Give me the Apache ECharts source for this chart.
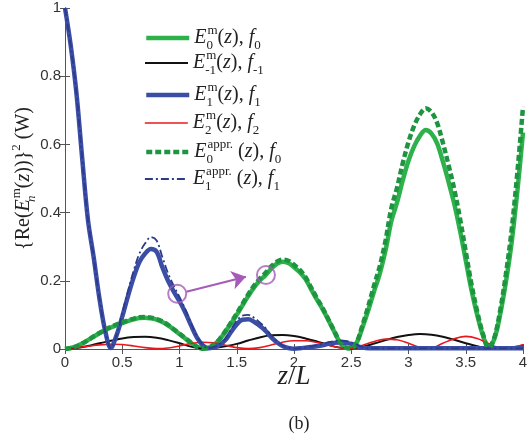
<!DOCTYPE html>
<html>
<head>
<meta charset="utf-8">
<script src="https://cdn.jsdelivr.net/npm/echarts@6/dist/echarts.min.js"></script>
<style>
  html, body { margin: 0; padding: 0; background: #fff; }
  #chart { width: 531px; height: 436px; }
</style>
</head>
<body>
<div id="chart"></div>
<script>
// Sample positions along z/L
const zFine = [];   // step 0.05
for (let i = 0; i <= 80; i++) zFine.push(+(i * 0.05).toFixed(2));
const zCoarse = []; // step 0.1
for (let i = 0; i <= 40; i++) zCoarse.push(+(i * 0.1).toFixed(1));

// Power of the fundamental (green, measured)
const e0m = [0, 0.003, 0.008, 0.016, 0.026, 0.036, 0.046, 0.055, 0.063, 0.07,
  0.076, 0.082, 0.087, 0.091, 0.092, 0.09, 0.086, 0.079, 0.069, 0.057,
  0.044, 0.031, 0.018, 0.007, 0.001, 0.003, 0.012, 0.028, 0.05, 0.075,
  0.1, 0.128, 0.155, 0.18, 0.2, 0.216, 0.235, 0.25, 0.256, 0.252,
  0.24, 0.225, 0.205, 0.175, 0.145, 0.117, 0.085, 0.052, 0.02, 0.004,
  0.002, 0.02, 0.065, 0.115, 0.17, 0.222, 0.29, 0.375, 0.43, 0.495,
  0.552, 0.595, 0.625, 0.642, 0.632, 0.603, 0.55, 0.49, 0.425, 0.347,
  0.26, 0.173, 0.1, 0.04, 0.004, 0.03, 0.1, 0.195, 0.31, 0.46, 0.635];

// Fundamental, approximate model (green dotted)
const e0appr = [0, 0.003, 0.008, 0.016, 0.026, 0.037, 0.047, 0.056, 0.065, 0.072,
  0.078, 0.084, 0.089, 0.093, 0.094, 0.092, 0.088, 0.081, 0.071, 0.058,
  0.045, 0.032, 0.019, 0.007, 0.001, 0.003, 0.013, 0.029, 0.052, 0.078,
  0.104, 0.132, 0.16, 0.185, 0.206, 0.223, 0.242, 0.256, 0.262, 0.259,
  0.247, 0.232, 0.211, 0.18, 0.149, 0.12, 0.087, 0.054, 0.021, 0.004,
  0.002, 0.022, 0.072, 0.127, 0.187, 0.244, 0.319, 0.413, 0.473, 0.545,
  0.607, 0.655, 0.688, 0.706, 0.695, 0.663, 0.605, 0.539, 0.468, 0.382,
  0.286, 0.19, 0.11, 0.044, 0.004, 0.034, 0.112, 0.218, 0.347, 0.515, 0.71];

// First upper harmonic (blue, measured)
const e1m = [1.0, 0.89, 0.75, 0.56, 0.38, 0.27, 0.15, 0.055, 0.003, 0.04,
  0.095, 0.155, 0.21, 0.255, 0.28, 0.293, 0.285, 0.24, 0.2, 0.168,
  0.14, 0.108, 0.07, 0.035, 0.012, 0.002, 0.005, 0.012, 0.026, 0.05,
  0.072, 0.086, 0.087, 0.08, 0.068, 0.054, 0.035, 0.02, 0.009, 0.003,
  0.001, 0.002, 0.004, 0.006, 0.008, 0.011, 0.015, 0.018, 0.019, 0.018,
  0.015, 0.009, 0.004, 0.002, 0.002, 0.002, 0.002, 0.002, 0.002, 0.002,
  0.002, 0.002, 0.002, 0.002, 0.002, 0.002, 0.002, 0.002, 0.002, 0.002,
  0.002, 0.002, 0.002, 0.002, 0.002, 0.002, 0.002, 0.002, 0.002, 0.002, 0.002];

// First upper harmonic, approximate model (blue dash-dot)
const e1appr = [1.0, 0.89, 0.75, 0.56, 0.38, 0.27, 0.15, 0.055, 0.003, 0.04,
  0.105, 0.17, 0.23, 0.28, 0.31, 0.328, 0.318, 0.27, 0.222, 0.185,
  0.153, 0.117, 0.076, 0.038, 0.013, 0.002, 0.006, 0.014, 0.03, 0.057,
  0.083, 0.098, 0.1, 0.092, 0.078, 0.062, 0.04, 0.023, 0.01, 0.004,
  0.001, 0.002, 0.005, 0.008, 0.011, 0.015, 0.02, 0.023, 0.025, 0.024,
  0.02, 0.012, 0.005, 0.002, 0.002, 0.002, 0.002, 0.002, 0.002, 0.002,
  0.002, 0.002, 0.002, 0.002, 0.002, 0.002, 0.002, 0.002, 0.002, 0.002,
  0.002, 0.002, 0.002, 0.002, 0.002, 0.002, 0.002, 0.002, 0.002, 0.002, 0.002];

// Lower harmonic f-1 (black)
const em1m = [0, 0.003, 0.009, 0.017, 0.024, 0.031, 0.035, 0.036, 0.033, 0.026,
  0.017, 0.007, 0.001, 0.003, 0.008, 0.015, 0.025, 0.034, 0.04, 0.041,
  0.038, 0.031, 0.022, 0.012, 0.004, 0.001, 0.007, 0.016, 0.026, 0.035,
  0.041, 0.044, 0.042, 0.036, 0.027, 0.017, 0.008, 0.002, 0.002, 0.005, 0.009];

// Second upper harmonic f2 (red)
const e2m = [0.002, 0.004, 0.008, 0.012, 0.014, 0.013, 0.009, 0.004, 0.001, 0.003,
  0.009, 0.016, 0.02, 0.018, 0.011, 0.004, 0.001, 0.004, 0.012, 0.02,
  0.024, 0.024, 0.019, 0.011, 0.004, 0.002, 0.011, 0.022, 0.029, 0.027,
  0.017, 0.005, 0.003, 0.017, 0.03, 0.037, 0.031, 0.016, 0.003, 0.004, 0.013];

// Highlighted points and the arrow joining them
const highlightPts = [[0.98, 0.162], [1.755, 0.217]];
const arrowFrom = [1.06, 0.168];
const arrowTo = [1.58, 0.212];

const xTicks = ['0', '0.5', '1', '1.5', '2', '2.5', '3', '3.5', '4'];
const yTicks = ['0', '0.2', '0.4', '0.6', '0.8', '1'];

const pairs = (zs, vs) => zs.map((z, i) => [z, vs[i]]);

const SERIF = '"Liberation Serif", "DejaVu Serif", serif';
const SANS = '"Liberation Sans", Arial, sans-serif';
const INK = '#222';
const GREEN = '#2db24b';
const GREEN_D = '#1f9440';
const BLUE = '#3b4ea6';
const BLUE_D = '#2c3a8c';
const RED = '#e8181c';
const BLACK = '#111';
const PURPLE = '#a45cb8';
const AXIS = '#555';

// Line styles shared by series and their legend keys
const STYLE = {
  E0m:    { color: GREEN,   width: 4.5, type: 'solid' },
  Em1m:   { color: BLACK,   width: 2,   type: 'solid' },
  E1m:    { color: BLUE,    width: 4.5, type: 'solid' },
  E2m:    { color: RED,     width: 1.6, type: 'solid' },
  E0appr: { color: GREEN_D, width: 4.5, type: [6, 3] },
  E1appr: { color: BLUE_D,  width: 1.8, type: [8, 3, 2, 3] }
};

const rich = {
  E:  { fontFamily: SERIF, fontStyle: 'italic', fontSize: 20, color: INK, lineHeight: 28 },
  t:  { fontFamily: SERIF, fontSize: 20, color: INK, lineHeight: 28 },
  zi: { fontFamily: SERIF, fontStyle: 'italic', fontSize: 20, color: INK, lineHeight: 28 },
  fi: { fontFamily: SERIF, fontStyle: 'italic', fontSize: 20, color: INK, lineHeight: 28 },
  lo: { fontFamily: SERIF, fontSize: 13, color: INK, lineHeight: 14, verticalAlign: 'bottom' },
  los:{ fontFamily: SERIF, fontSize: 13, color: INK, lineHeight: 14, verticalAlign: 'bottom', width: 1 },
  loi:{ fontFamily: SERIF, fontStyle: 'italic', fontSize: 13, color: INK, lineHeight: 14, verticalAlign: 'bottom', width: 1 },
  hi: { fontFamily: SERIF, fontSize: 13, color: INK, lineHeight: 14, verticalAlign: 'top' }
};

const legendText = {
  'E0m':    '{E|E}{los|0}{hi|m}{t|(}{zi|z}{t|), }{fi|f}{lo|0}',
  'Em1m':   '{E|E}{los|-1}{hi|m}{t|(}{zi|z}{t|), }{fi|f}{lo|-1}',
  'E1m':    '{E|E}{los|1}{hi|m}{t|(}{zi|z}{t|), }{fi|f}{lo|1}',
  'E2m':    '{E|E}{los|2}{hi|m}{t|(}{zi|z}{t|), }{fi|f}{lo|2}',
  'E0appr': '{E|E}{los|0}{hi|appr.}{t| (}{zi|z}{t|), }{fi|f}{lo|0}',
  'E1appr': '{E|E}{los|1}{hi|appr.}{t| (}{zi|z}{t|), }{fi|f}{lo|1}'
};
const legendRows = [
  ['E0m', 38], ['Em1m', 63], ['E1m', 95], ['E2m', 123], ['E0appr', 152], ['E1appr', 179]
];

const chart = echarts.init(document.getElementById('chart'), null, { renderer: 'canvas' });

const lineSeries = (name, data, z) => ({
  name, type: 'line', data, symbol: 'none', smooth: 0.35, z,
  lineStyle: Object.assign({ cap: 'butt' }, STYLE[name]),
  itemStyle: { color: STYLE[name].color },
  emphasis: { disabled: true },
  clip: true
});

const option = {
  animation: false,
  backgroundColor: '#fff',
  title: {
    text: '(b)', left: 294, top: 410, textAlign: 'center',
    textStyle: { fontFamily: SERIF, fontSize: 18, fontWeight: 'normal', color: INK }
  },
  grid: { left: 65, right: 8, top: 8, bottom: 87, containLabel: false, outerBoundsMode: 'none' },
  legend: legendRows.map(([name, y]) => ({
    data: [name], left: 144, top: y - 14, padding: 0, itemWidth: 43, itemHeight: 10,
    selectedMode: false,
    itemStyle: { opacity: 0 },
    lineStyle: { color: STYLE[name].color, width: STYLE[name].width, type: STYLE[name].type, cap: 'butt' },
    formatter: n => legendText[n],
    textStyle: { rich, fontFamily: SERIF, fontSize: 20, color: INK }
  })),
  xAxis: [{
    type: 'value', min: 0, max: 4, interval: 0.5, position: 'bottom',
    name: '{zi|z}{t|/}{zi|L}', nameLocation: 'middle', nameGap: 11, nameMoveOverlap: false,
    nameTextStyle: {
      rich: {
        zi: { fontFamily: SERIF, fontStyle: 'italic', fontSize: 27, color: INK, lineHeight: 34 },
        t: { fontFamily: SERIF, fontSize: 27, color: INK, lineHeight: 34 }
      }
    },
    axisLine: { show: true, lineStyle: { color: AXIS, width: 1 } },
    axisTick: { show: true, inside: true, length: 5, lineStyle: { color: AXIS } },
    axisLabel: {
      margin: 6, fontFamily: SANS, fontSize: 15, color: '#333',
      formatter: v => xTicks[Math.round(v / 0.5)]
    },
    splitLine: { show: false }
  }, {
    type: 'value', min: 0, max: 4, interval: 0.5, position: 'top',
    axisLine: { show: true, lineStyle: { color: AXIS, width: 1 } },
    axisTick: { show: true, inside: true, length: 5, lineStyle: { color: AXIS } },
    axisLabel: { show: false }, splitLine: { show: false }
  }],
  yAxis: [{
    type: 'value', min: 0, max: 1, interval: 0.2, position: 'left',
    name: '{t|\{Re(}{E|E}{loi|n}{hi|m}{t|(}{zi|z}{t|))}}{hi|2}{t| (W)}',
    nameLocation: 'middle', nameRotate: 90, nameGap: 27, nameMoveOverlap: false,
    nameTextStyle: { rich, fontFamily: SERIF, fontSize: 20, color: INK, lineHeight: 28 },
    axisLine: { show: true, lineStyle: { color: AXIS, width: 1 } },
    axisTick: { show: true, inside: true, length: 5, lineStyle: { color: AXIS } },
    axisLabel: {
      margin: 4, fontFamily: SANS, fontSize: 15, color: '#333',
      formatter: v => yTicks[Math.round(v / 0.2)]
    },
    splitLine: { show: false }
  }, {
    type: 'value', min: 0, max: 1, interval: 0.2, position: 'right',
    axisLine: { show: true, lineStyle: { color: AXIS, width: 1 } },
    axisTick: { show: true, inside: true, length: 5, lineStyle: { color: AXIS } },
    axisLabel: { show: false }, splitLine: { show: false }
  }],
  series: [
    lineSeries('E0m', pairs(zFine, e0m), 2),
    lineSeries('Em1m', pairs(zCoarse, em1m), 3),
    lineSeries('E2m', pairs(zCoarse, e2m), 3),
    lineSeries('E1m', pairs(zFine, e1m), 4),
    lineSeries('E0appr', pairs(zFine, e0appr), 5),
    lineSeries('E1appr', pairs(zFine, e1appr), 5),
    {
      name: 'marks', type: 'scatter', data: highlightPts, z: 6,
      symbol: 'circle', symbolSize: 18,
      itemStyle: { color: 'rgba(0,0,0,0)', borderColor: PURPLE, borderWidth: 2 },
      emphasis: { disabled: true },
      markLine: {
        silent: true, symbol: ['none', 'arrow'], symbolSize: [14, 14],
        label: { show: false },
        lineStyle: { color: PURPLE, width: 2, type: 'solid' },
        data: [[{ coord: arrowFrom }, { coord: arrowTo }]]
      }
    }
  ]
};

chart.setOption(option);
</script>
</body>
</html>
